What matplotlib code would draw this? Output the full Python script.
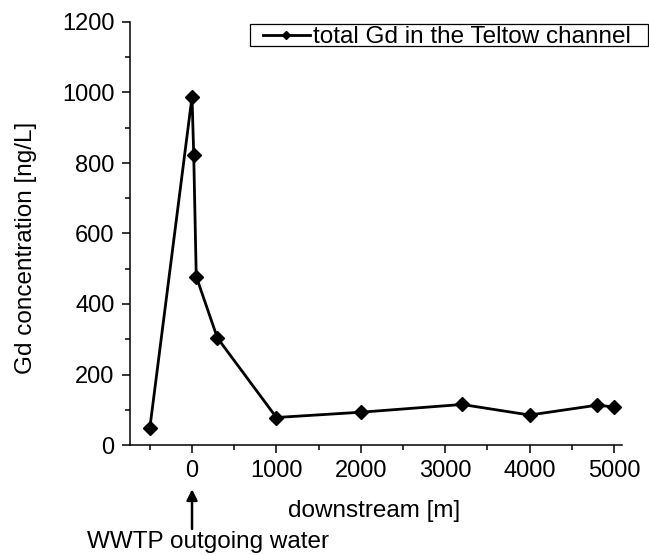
import matplotlib
matplotlib.use("Agg")
import matplotlib.pyplot as plt
from matplotlib.ticker import MultipleLocator
from matplotlib.patches import Rectangle

plt.rcParams['font.family'] = ['Liberation Sans', 'DejaVu Sans']

distance_m = [-500, 0, 20, 50, 300, 1000, 2000, 3200, 4000, 4800, 5000]
gd_ng_per_L = [48, 988, 824, 478, 304, 78, 93, 115, 85, 113, 108]
series_label = "total Gd in the Teltow channel"

W, H = 649, 555
fig = plt.figure(figsize=(W/100, H/100), dpi=100)
ax = fig.add_axes([130/W, 1-445/H, (622-130)/W, (445-22)/H])

ax.plot(distance_m, gd_ng_per_L, color='black', lw=2.0, marker='D', ms=7.5,
        label=series_label, clip_on=False)

ax.set_xlim(-735, 5095)
ax.set_ylim(0, 1200)
ax.xaxis.set_major_locator(MultipleLocator(1000))
ax.xaxis.set_minor_locator(MultipleLocator(500))
ax.yaxis.set_major_locator(MultipleLocator(200))
ax.yaxis.set_minor_locator(MultipleLocator(100))
for s in ['top', 'right']:
    ax.spines[s].set_visible(False)
for s in ['left', 'bottom']:
    ax.spines[s].set_linewidth(1.1)
ax.tick_params(which='major', direction='out', length=6, width=1.1,
               labelsize=17, pad=5)
ax.tick_params(which='minor', direction='out', length=3.5, width=1.1)

ax.set_xlabel("downstream [m]", fontsize=17.5)
ax.set_ylabel("Gd concentration [ng/L]", fontsize=17.5)
ax.xaxis.set_label_coords((374-130)/492, -0.131)
ax.yaxis.set_label_coords((37-130)/492, (445-248)/423)

ax.annotate("", xy=(0, -0.098), xycoords=('data', 'axes fraction'),
            xytext=(0, -0.205), textcoords=('data', 'axes fraction'),
            arrowprops=dict(arrowstyle='-|>', color='black', lw=1.8,
                            mutation_scale=16), annotation_clip=False)
ax.text((87-130)/492, (445-548)/423, "WWTP outgoing water", transform=ax.transAxes,
        ha='left', va='baseline', fontsize=17.5)

fig.patches.append(Rectangle((250/W, 1-46/H), 398/W, 22/H, transform=fig.transFigure,
                             fill=False, edgecolor='black', lw=0.9))
leg = fig.legend(loc='center left', bbox_to_anchor=(263/W, 1-37/H),
                 fontsize=17.5, frameon=False, borderpad=0,
                 handlelength=1.93, handletextpad=0.12, markerscale=0.55,
                 borderaxespad=0)

fig.savefig("out.png", dpi=100)
